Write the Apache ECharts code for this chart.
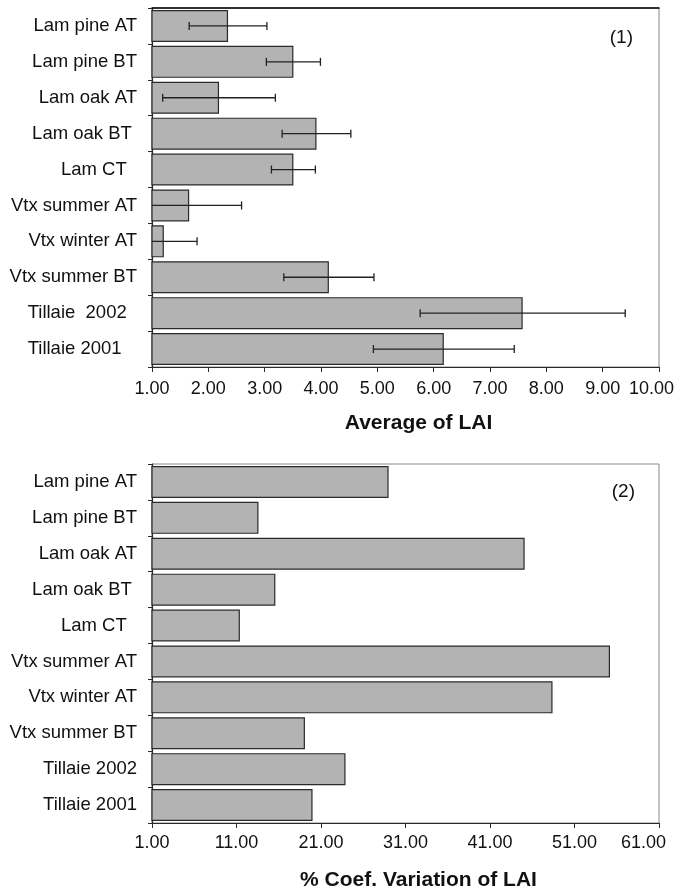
<!DOCTYPE html>
<html>
<head>
<meta charset="utf-8">
<script src="https://cdn.jsdelivr.net/npm/echarts@6/dist/echarts.min.js"></script>
<style>html,body{margin:0;padding:0;background:#fff}#c{width:676px;height:892px}</style>
</head>
<body>
<div id="c"></div>
<script>
// ---- data ----
const categoriesTop = ["Lam pine AT", "Lam pine BT", "Lam oak AT", "Lam oak BT ", "Lam CT  ", "Vtx summer AT", "Vtx winter AT", "Vtx summer BT", "Tillaie  2002  ", "Tillaie 2001   "];
const categoriesBottom = ["Lam pine AT", "Lam pine BT", "Lam oak AT", "Lam oak BT ", "Lam CT  ", "Vtx summer AT", "Vtx winter AT", "Vtx summer BT", "Tillaie 2002", "Tillaie 2001"];
const averageLAI = [2.35, 3.51, 2.19, 3.92, 3.51, 1.66, 1.21, 4.14, 7.58, 6.18];
const sdLAI = [0.69, 0.48, 1.00, 0.61, 0.39, 0.93, 0.59, 0.80, 1.82, 1.25];
const cvLAI = [29.0, 13.6, 45.1, 15.6, 11.4, 55.2, 48.4, 19.1, 23.9, 20.0];
const xTicksTop = [1, 2, 3, 4, 5, 6, 7, 8, 9, 10];
const xTicksBottom = [1, 11, 21, 31, 41, 51, 61];

const font = '"Liberation Sans", Arial, sans-serif';
const barFill = '#b3b3b3';
const dark = '#2a2a2a';

const errData = averageLAI.map((v, i) => [i, v - sdLAI[i], v + sdLAI[i]]);

function catAxis(gridIndex, cats) {
  return {
    type: 'category', gridIndex, data: cats, inverse: true,
    axisLine: { show: true, lineStyle: { color: dark, width: 1.2 } },
    axisTick: { show: true, length: 4, lineStyle: { color: dark } },
    axisLabel: { color: '#111', fontSize: 18.5, fontFamily: font, margin: 15 },
    splitLine: { show: false }
  };
}

function tickFmt(maxVal) {
  return v => (v === maxVal ? '{last|' + v.toFixed(2) + '}' : v.toFixed(2));
}

const chart = echarts.init(document.getElementById('c'), null, { renderer: 'canvas' });
chart.setOption({
  animation: false,
  backgroundColor: '#fff',
  textStyle: { fontFamily: font },
  grid: [
    { left: 152, right: 17, top: 8, bottom: 525, show: true, borderColor: '#888', borderWidth: 1, containLabel: false, outerBoundsMode: 'none' },
    { left: 152, right: 17, top: 464, bottom: 69, show: true, borderColor: '#888', borderWidth: 1, containLabel: false, outerBoundsMode: 'none' }
  ],
  title: [
    { text: '(1)', right: 38, top: 23, textStyle: { fontSize: 19, fontWeight: 'normal', color: '#111', fontFamily: font } },
    { text: '(2)', right: 36, top: 477, textStyle: { fontSize: 19, fontWeight: 'normal', color: '#111', fontFamily: font } }
  ],
  xAxis: [
    {
      type: 'value', gridIndex: 0, min: xTicksTop[0], max: xTicksTop[xTicksTop.length - 1], interval: 1,
      name: 'Average of LAI', nameLocation: 'middle', nameGap: 46,
      nameTextStyle: { fontSize: 21, fontWeight: 'bold', color: '#111', fontFamily: font, padding: [0, 0, 0, 26] },
      axisLine: { show: true, lineStyle: { color: dark, width: 1.2 } },
      axisTick: { show: true, length: 5, lineStyle: { color: dark } },
      axisLabel: {
        color: '#111', fontSize: 18, fontFamily: font, margin: 13, formatter: tickFmt(xTicksTop[xTicksTop.length - 1]),
        rich: { last: { fontSize: 18, fontFamily: font, color: '#111', padding: [0, 15, 0, 0] } }
      },
      splitLine: { show: false }
    },
    {
      type: 'value', gridIndex: 0, position: 'top', min: xTicksTop[0], max: xTicksTop[xTicksTop.length - 1],
      axisLine: { show: true, onZero: false, lineStyle: { color: '#000', width: 1.5 } },
      axisTick: { show: false }, axisLabel: { show: false }, splitLine: { show: false }
    },
    {
      type: 'value', gridIndex: 1, min: xTicksBottom[0], max: xTicksBottom[xTicksBottom.length - 1], interval: 10,
      name: '% Coef. Variation of LAI', nameLocation: 'middle', nameGap: 47,
      nameTextStyle: { fontSize: 21, fontWeight: 'bold', color: '#111', fontFamily: font, padding: [0, 0, 0, 26] },
      axisLine: { show: true, lineStyle: { color: dark, width: 1.2 } },
      axisTick: { show: true, length: 5, lineStyle: { color: dark } },
      axisLabel: {
        color: '#111', fontSize: 18, fontFamily: font, margin: 11, formatter: tickFmt(xTicksBottom[xTicksBottom.length - 1]),
        rich: { last: { fontSize: 18, fontFamily: font, color: '#111', padding: [0, 31, 0, 0] } }
      },
      splitLine: { show: false }
    }
  ],
  yAxis: [catAxis(0, categoriesTop), catAxis(1, categoriesBottom)],
  series: [
    {
      type: 'bar', xAxisIndex: 0, yAxisIndex: 0, data: averageLAI, barCategoryGap: '11%',
      itemStyle: { color: barFill, borderColor: dark, borderWidth: 1.2 }
    },
    {
      type: 'custom', xAxisIndex: 0, yAxisIndex: 0, data: errData, clip: true,
      encode: { x: [1, 2], y: 0 },
      renderItem: function (params, api) {
        const idx = api.value(0);
        const p1 = api.coord([api.value(1), idx]);
        const p2 = api.coord([api.value(2), idx]);
        const h = 4;
        const st = { stroke: '#222', lineWidth: 1.3 };
        return {
          type: 'group',
          children: [
            { type: 'line', shape: { x1: p1[0], y1: p1[1], x2: p2[0], y2: p2[1] }, style: st },
            { type: 'line', shape: { x1: p1[0], y1: p1[1] - h, x2: p1[0], y2: p1[1] + h }, style: st },
            { type: 'line', shape: { x1: p2[0], y1: p2[1] - h, x2: p2[0], y2: p2[1] + h }, style: st }
          ]
        };
      },
      z: 5
    },
    {
      type: 'bar', xAxisIndex: 2, yAxisIndex: 1, data: cvLAI, barCategoryGap: '11%',
      itemStyle: { color: barFill, borderColor: dark, borderWidth: 1.2 }
    }
  ]
});
</script>
</body>
</html>
